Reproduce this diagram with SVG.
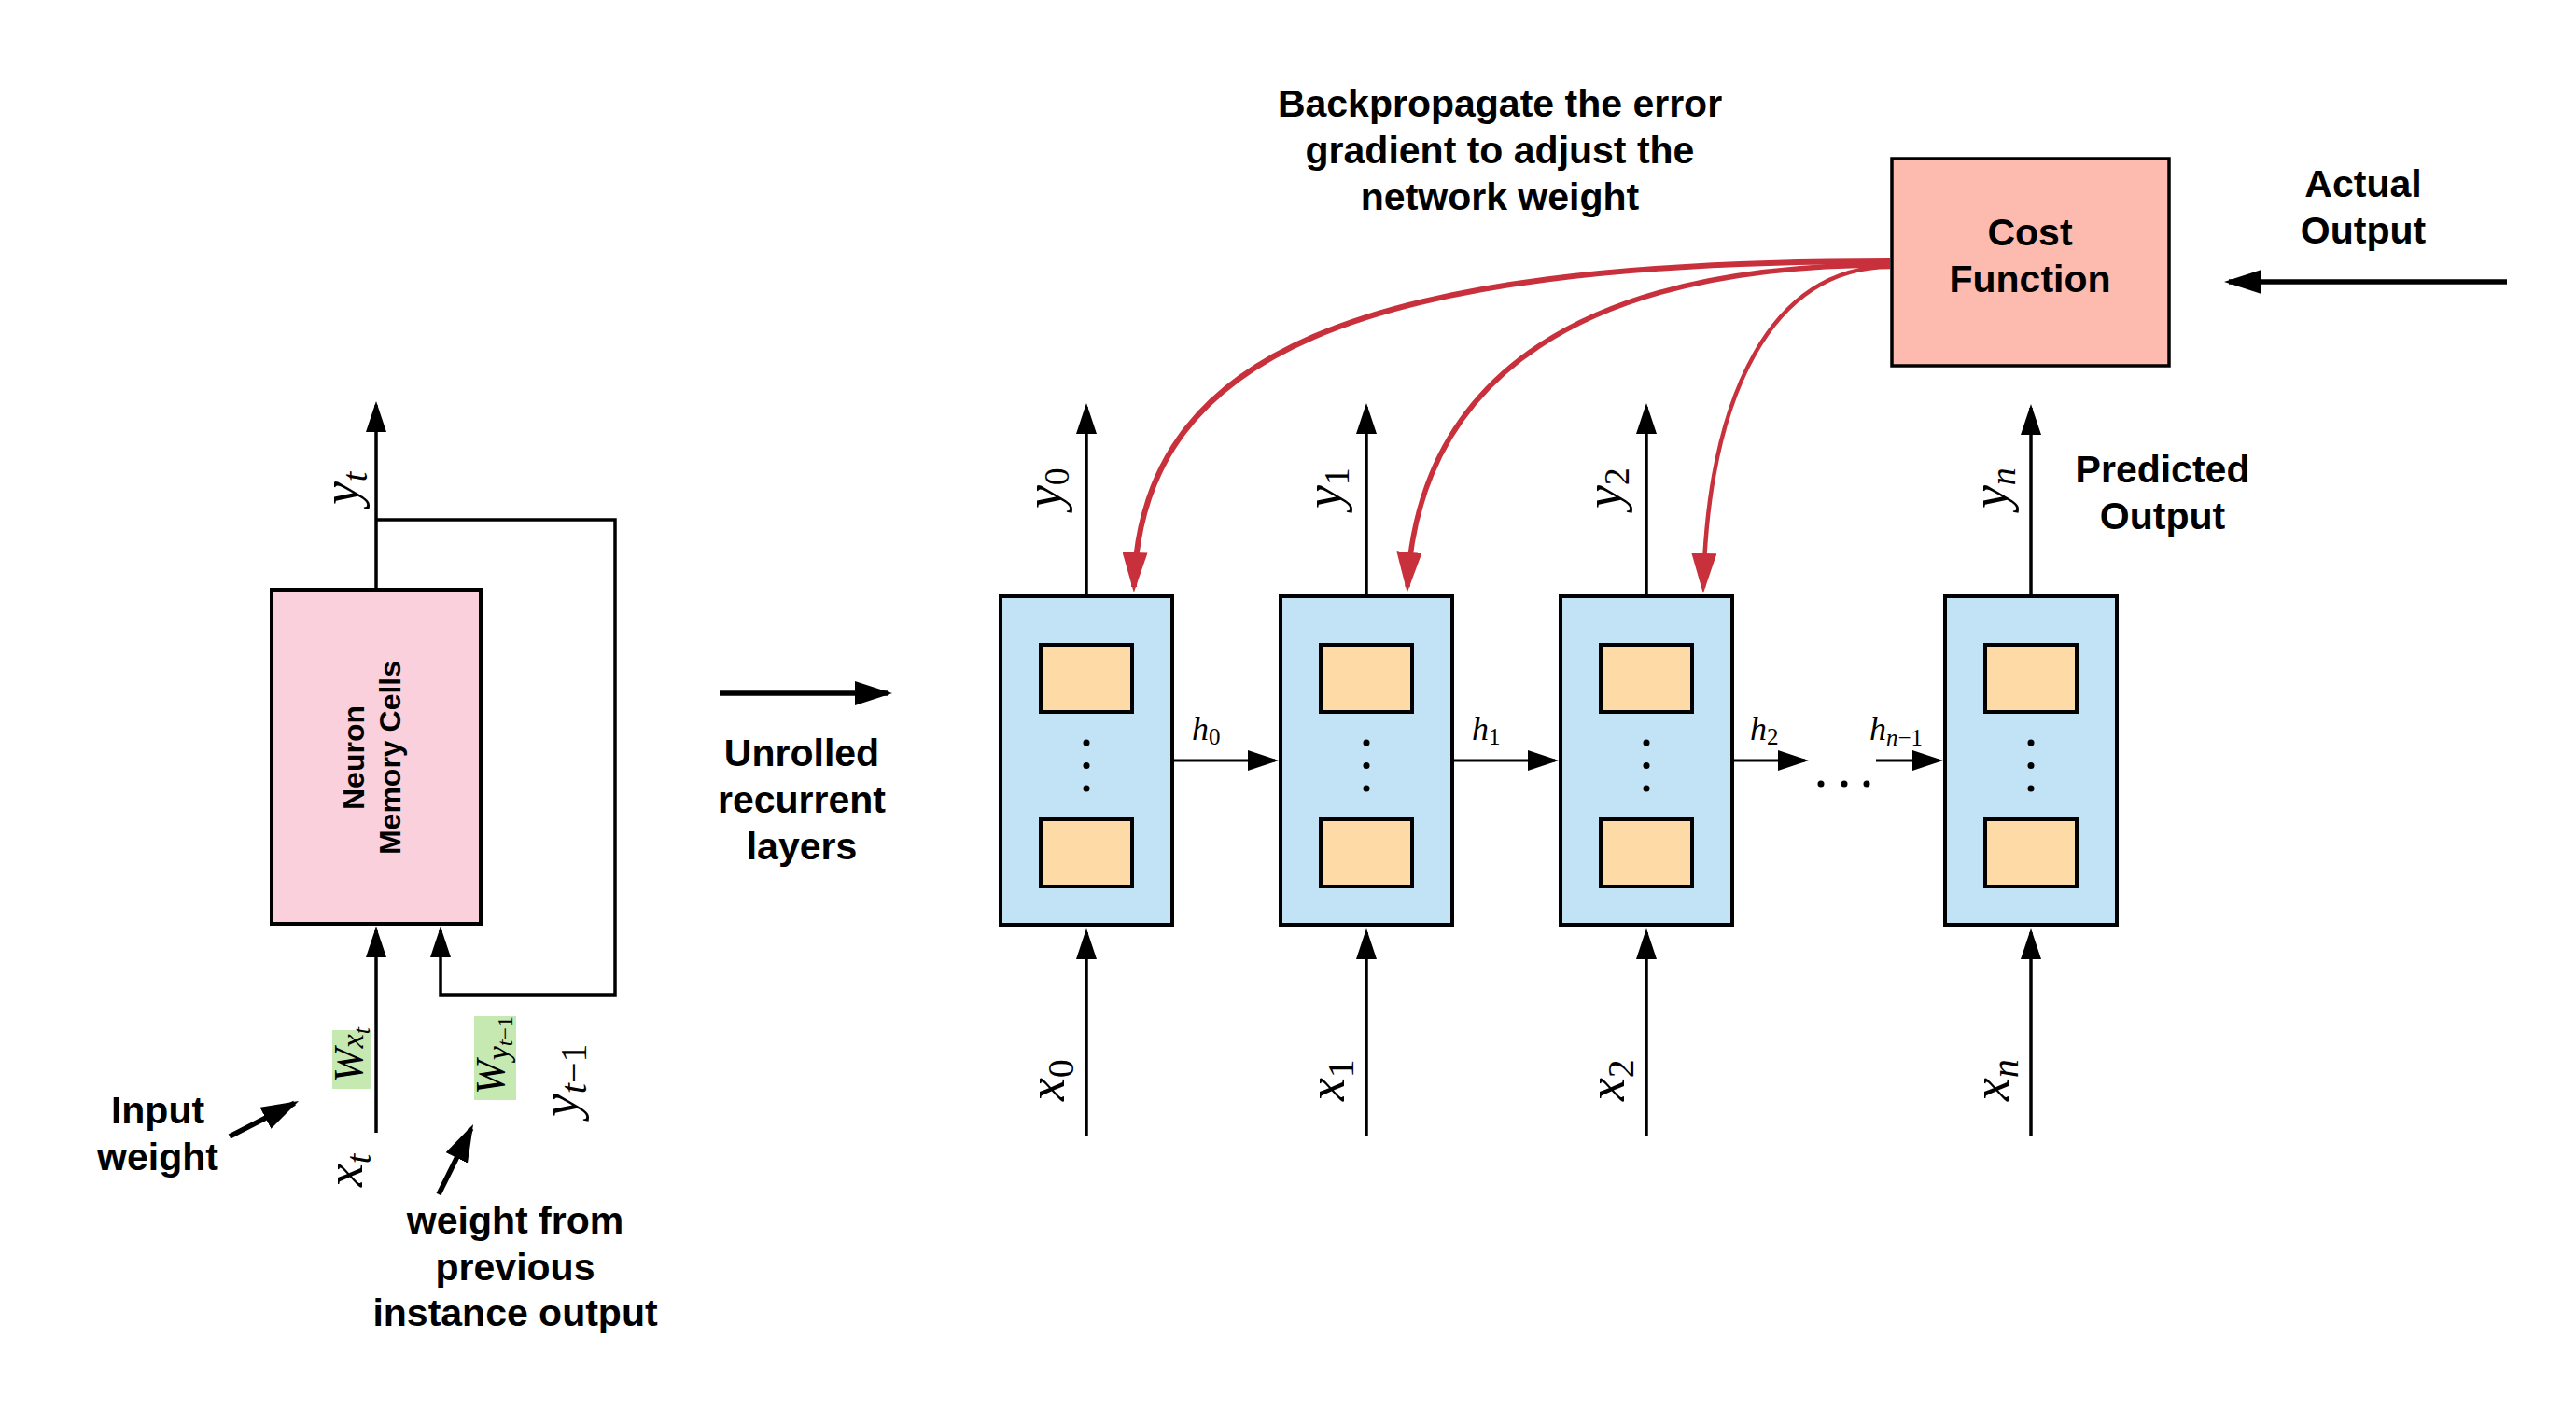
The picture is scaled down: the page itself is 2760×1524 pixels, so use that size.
<svg xmlns="http://www.w3.org/2000/svg" width="2760" height="1524" viewBox="0 0 2760 1524">
<style>
.lbl{font-family:"Liberation Sans",Arial,sans-serif;font-weight:bold;font-size:41px;fill:#000;text-anchor:middle}
.m{font-family:"Liberation Serif","Times New Roman",serif;font-style:italic;fill:#000}
.up{font-style:normal}
.ln{fill:none;stroke:#000;stroke-width:3.5}
.lnh{fill:none;stroke:#000;stroke-width:3}
.thick{fill:none;stroke:#000;stroke-width:5.5}
.red{fill:none;stroke:#C8303C}
.cell{fill:#C2E3F5;stroke:#000;stroke-width:4}
.unit{fill:#FDDAA6;stroke:#000;stroke-width:4}
.w{fill:#C6E9B2}
</style>
<defs>
<marker id="ah" markerUnits="userSpaceOnUse" markerWidth="33" markerHeight="22" viewBox="0 0 33 22" refX="29" refY="11" orient="auto"><path d="M0,0 L33,11 L0,22 z" fill="#000"/></marker>
<marker id="big" markerUnits="userSpaceOnUse" markerWidth="40" markerHeight="26" viewBox="0 0 40 26" refX="35" refY="13" orient="auto"><path d="M0,0 L40,13 L0,26 z" fill="#000"/></marker>
<marker id="rh" markerUnits="userSpaceOnUse" markerWidth="43" markerHeight="27" viewBox="0 0 43 27" refX="37" refY="13.5" orient="auto"><path d="M0,0 L43,13.5 L0,27 z" fill="#C8303C"/></marker>
</defs>
<rect width="2760" height="1524" fill="#fff"/>

<!-- Left: folded RNN -->
<g id="neuron">
<rect x="291" y="632" width="224" height="358" fill="#F9D0DC" stroke="#000" stroke-width="4"/>
<text class="lbl" font-size="32" style="font-size:32px" transform="translate(403,812) rotate(-90)"><tspan x="0" y="-13">Neuron</tspan><tspan x="0" y="26">Memory Cells</tspan></text>
</g>

<g id="weights">
<rect class="w" x="356" y="1104" width="41" height="63"/>
<text class="m" font-size="44" transform="translate(388,1160) rotate(-90)">W<tspan font-size="34" dy="1">x</tspan><tspan font-size="26" dy="7">t</tspan></text>
<rect class="w" x="508" y="1089" width="45" height="90"/>
<text class="m" font-size="44" transform="translate(540,1173) rotate(-90)">W<tspan font-size="34" dy="5">y</tspan><tspan font-size="24" dy="4">t</tspan><tspan class="up" font-size="24">−1</tspan></text>
</g>

<g id="left-labels">
<text class="m" font-size="56" transform="translate(384,541) rotate(-90)">y<tspan font-size="38" dy="9">t</tspan></text>
<text class="m" font-size="56" transform="translate(388,1272) rotate(-90)">x<tspan font-size="38" dy="9">t</tspan></text>
<text class="m" font-size="56" transform="translate(619,1197) rotate(-90)">y<tspan font-size="40" dy="9">t</tspan><tspan class="up" font-size="40">−1</tspan></text>
<text class="lbl"><tspan x="169" y="1204">Input</tspan><tspan x="169" y="1254">weight</tspan></text>
<text class="lbl"><tspan x="552" y="1322">weight from</tspan><tspan x="552" y="1372">previous</tspan><tspan x="552" y="1421">instance output</tspan></text>
<text class="lbl"><tspan x="859" y="821">Unrolled</tspan><tspan x="859" y="871">recurrent</tspan><tspan x="859" y="921">layers</tspan></text>
</g>

<!-- Unrolled cells -->
<g id="cell0">
<rect class="cell" x="1072" y="639" width="184" height="352"/>
<rect class="unit" x="1115" y="691" width="98" height="72"/>
<rect class="unit" x="1115" y="878" width="98" height="72"/>
<circle cx="1164" cy="796" r="3.5"/><circle cx="1164" cy="820.5" r="3.5"/><circle cx="1164" cy="845" r="3.5"/>
</g>
<g id="cell1">
<rect class="cell" x="1372" y="639" width="184" height="352"/>
<rect class="unit" x="1415" y="691" width="98" height="72"/>
<rect class="unit" x="1415" y="878" width="98" height="72"/>
<circle cx="1464" cy="796" r="3.5"/><circle cx="1464" cy="820.5" r="3.5"/><circle cx="1464" cy="845" r="3.5"/>
</g>
<g id="cell2">
<rect class="cell" x="1672" y="639" width="184" height="352"/>
<rect class="unit" x="1715" y="691" width="98" height="72"/>
<rect class="unit" x="1715" y="878" width="98" height="72"/>
<circle cx="1764" cy="796" r="3.5"/><circle cx="1764" cy="820.5" r="3.5"/><circle cx="1764" cy="845" r="3.5"/>
</g>
<g id="celln">
<rect class="cell" x="2084" y="639" width="184" height="352"/>
<rect class="unit" x="2127" y="691" width="98" height="72"/>
<rect class="unit" x="2127" y="878" width="98" height="72"/>
<circle cx="2176" cy="796" r="3.5"/><circle cx="2176" cy="820.5" r="3.5"/><circle cx="2176" cy="845" r="3.5"/>
</g>
<g id="ellipsis">
<circle cx="1951" cy="840" r="3.5"/><circle cx="1976" cy="840" r="3.5"/><circle cx="2000" cy="840" r="3.5"/>
</g>

<g id="cost">
<rect x="2027" y="170" width="297" height="222" fill="#FDBBB0" stroke="#000" stroke-width="3.5"/>
<text class="lbl"><tspan x="2175" y="263">Cost</tspan><tspan x="2175" y="313">Function</tspan></text>
</g>

<g id="texts">
<text class="lbl"><tspan x="1607" y="125">Backpropagate the error</tspan><tspan x="1607" y="175">gradient to adjust the</tspan><tspan x="1607" y="225">network weight</tspan></text>
<text class="lbl"><tspan x="2532" y="211">Actual</tspan><tspan x="2532" y="261">Output</tspan></text>
<text class="lbl"><tspan x="2317" y="517">Predicted</tspan><tspan x="2317" y="567">Output</tspan></text>
</g>

<g id="math-labels">
<text class="m" font-size="56" transform="translate(1137,545) rotate(-90)">y<tspan class="up" font-size="38" dy="8">0</tspan></text>
<text class="m" font-size="56" transform="translate(1437,545) rotate(-90)">y<tspan class="up" font-size="38" dy="8">1</tspan></text>
<text class="m" font-size="56" transform="translate(1737,545) rotate(-90)">y<tspan class="up" font-size="38" dy="8">2</tspan></text>
<text class="m" font-size="56" transform="translate(2151,545) rotate(-90)">y<tspan font-size="38" dy="8">n</tspan></text>
<text class="m" font-size="56" transform="translate(1140,1180) rotate(-90)">x<tspan class="up" font-size="40" dy="10">0</tspan></text>
<text class="m" font-size="56" transform="translate(1440,1180) rotate(-90)">x<tspan class="up" font-size="40" dy="10">1</tspan></text>
<text class="m" font-size="56" transform="translate(1740,1180) rotate(-90)">x<tspan class="up" font-size="40" dy="10">2</tspan></text>
<text class="m" font-size="56" transform="translate(2152,1180) rotate(-90)">x<tspan font-size="40" dy="10">n</tspan></text>
<text class="m" font-size="36" x="1277" y="793">h<tspan class="up" font-size="25" dy="5">0</tspan></text>
<text class="m" font-size="36" x="1577" y="793">h<tspan class="up" font-size="25" dy="5">1</tspan></text>
<text class="m" font-size="36" x="1875" y="793">h<tspan class="up" font-size="25" dy="5">2</tspan></text>
<text class="m" font-size="36" x="2003" y="793">h<tspan font-size="25" dy="6">n</tspan><tspan class="up" font-size="25">−1</tspan></text>
</g>

<g id="connectors">
<!-- left -->
<path class="ln" d="M403,632 V434" marker-end="url(#ah)"/>
<path class="ln" d="M403,1214 V997" marker-end="url(#ah)"/>
<path class="ln" d="M403,557 H659 V1066 H472 V997" marker-end="url(#ah)"/>
<path class="thick" d="M246,1218 L315.6,1182.3" marker-end="url(#big)"/>
<path class="thick" d="M470,1280 L504.8,1209.5" marker-end="url(#big)"/>
<path class="thick" d="M771,743 H951" marker-end="url(#big)"/>
<path class="thick" d="M2686,302 H2388" marker-end="url(#big)"/>
<!-- outputs -->
<path class="ln" d="M1164,639 V436" marker-end="url(#ah)"/>
<path class="ln" d="M1464,639 V436" marker-end="url(#ah)"/>
<path class="ln" d="M1764,639 V436" marker-end="url(#ah)"/>
<path class="ln" d="M2176,639 V437" marker-end="url(#ah)"/>
<!-- inputs -->
<path class="ln" d="M1164,1217 V999" marker-end="url(#ah)"/>
<path class="ln" d="M1464,1217 V999" marker-end="url(#ah)"/>
<path class="ln" d="M1764,1217 V999" marker-end="url(#ah)"/>
<path class="ln" d="M2176,1217 V999" marker-end="url(#ah)"/>
<!-- hidden -->
<path class="lnh" d="M1258,815 H1366" marker-end="url(#ah)"/>
<path class="lnh" d="M1558,815 H1666" marker-end="url(#ah)"/>
<path class="lnh" d="M1858,815 H1934" marker-end="url(#ah)"/>
<path class="lnh" d="M2010,815 H2078" marker-end="url(#ah)"/>
<!-- backprop -->
<path class="red" stroke-width="6" d="M2025,280 C1450,280 1222,380 1215,629" marker-end="url(#rh)"/>
<path class="red" stroke-width="5.5" d="M2025,284 C1700,284 1520,400 1508,629" marker-end="url(#rh)"/>
<path class="red" stroke-width="4.5" d="M2025,286 C1900,286 1830,420 1825,630" marker-end="url(#rh)"/>
</g>
</svg>
